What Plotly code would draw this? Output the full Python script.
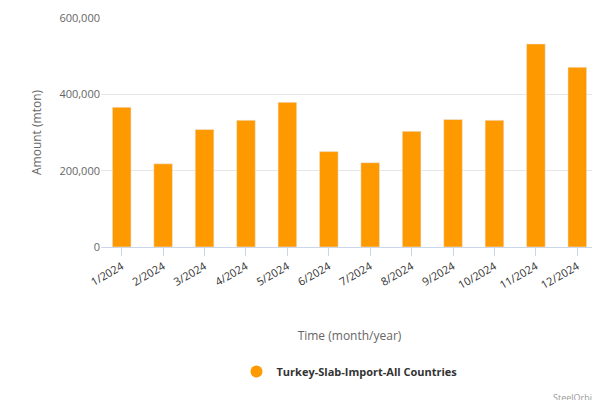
import plotly.graph_objects as go

months = ["1/2024","2/2024","3/2024","4/2024","5/2024","6/2024","7/2024","8/2024","9/2024","10/2024","11/2024","12/2024"]
values = [366000,218000,308000,332000,379000,250000,221000,303000,334000,332000,532000,471000]
series_name = "Turkey-Slab-Import-All Countries"

fig = go.Figure(go.Bar(x=months, y=values, name=series_name, marker_color="#ff9900", width=0.45, showlegend=False))
fig.add_trace(go.Scatter(x=[None], y=[None], mode="markers", marker=dict(color="#ff9900", size=12), name=series_name))
fig.update_layout(
    width=600, height=400, plot_bgcolor="white", paper_bgcolor="white",
    margin=dict(l=93, r=10, t=10, b=161),
    font=dict(family="Open Sans, DejaVu Sans", color="#666666", size=11),
    xaxis=dict(title=dict(text="Time (month/year)", font=dict(size=12), standoff=40), tickangle=-30,
               showline=True, linecolor="#ccd6eb", ticks="outside", tickcolor="#ccd6eb", ticklen=8,
               tickfont=dict(color="#333333"), automargin=False),
    yaxis=dict(title=dict(text="Amount (mton)", font=dict(size=12)), range=[0,600000], tickvals=[0,200000,400000,600000],
               tickformat=",", gridcolor="#e6e6e6", zeroline=False, automargin=False),
    legend=dict(orientation="h", x=0.5, xanchor="center", y=-0.48, yanchor="top",
                font=dict(size=11, color="#333333", weight="bold"), itemsizing="constant"),
    bargap=0.5,
)
fig.add_annotation(text="SteelOrbis", xref="paper", yref="paper", x=1.0, y=-0.62, xanchor="right", yanchor="top",
                   showarrow=False, font=dict(size=9, color="#999999"))
fig.write_html("out.html")
